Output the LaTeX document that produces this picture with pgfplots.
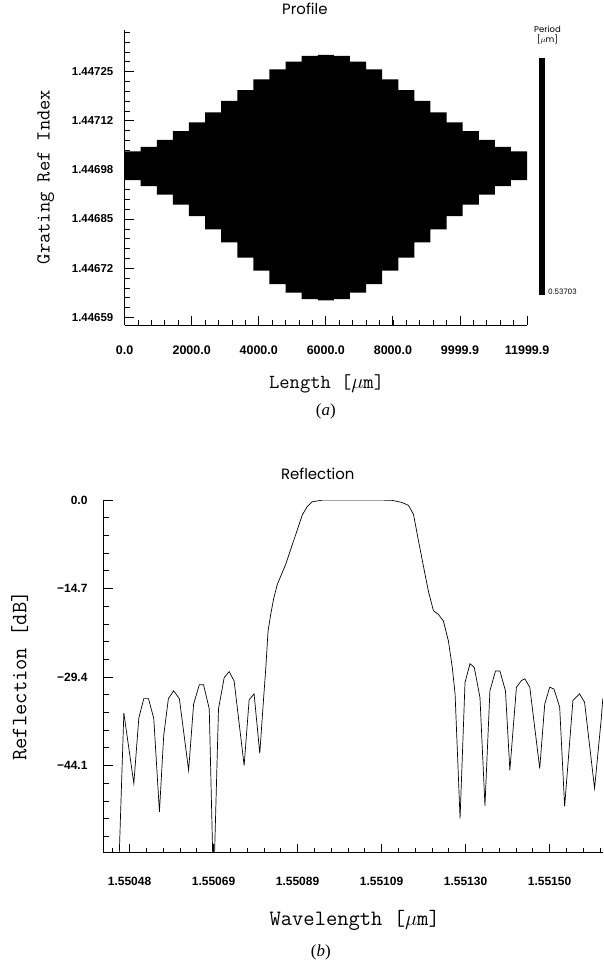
\documentclass[border=0pt]{standalone}
\usepackage{fontspec}
\usepackage{pgfplots}
\usepackage{pgfplotstable}
\pgfplotsset{compat=1.18}
\usepgfplotslibrary{fillbetween}
\newfontfamily\helv{Liberation Sans}
\newfontfamily\geo{Poppins}
\newfontfamily\tms{Liberation Serif}

% grating profile: x in um, index as (n - 1.446) * 1e5
\pgfplotstableread{
x     top    bot
0     104.0  96.2
480   105.2  94.6
960   107.1  92.3
1440  109.4  89.6
1920  111.8  86.5
2400  114.5  82.9
2880  117.6  79.4
3360  120.5  75.3
3840  123.4  71.8
4320  126.1  68.2
4800  128.2  65.9
5280  129.7  64.1
5760  130.0  63.8
6240  129.7  64.1
6720  128.2  65.9
7200  126.1  68.2
7680  123.4  71.8
8160  120.5  75.3
8640  117.6  79.4
9120  114.5  82.9
9600  111.8  86.5
10080 109.4  89.6
10560 107.1  92.3
11040 105.2  94.6
11520 104.0  96.2
12000 104.0  96.2
}\profile

% reflection: wavelength as (lambda - 1.55) * 1e5, dB
\pgfplotstableread{
wl      db
45.52  -65
46.92  -35.4
49.34  -47.1
50.55  -36.2
51.75  -33.0
52.89  -33.0
54.17  -36.3
55.54  -51.8
56.58  -39.1
57.71  -33.0
58.99  -31.7
60.37  -33.0
62.61  -44.9
63.82  -33.9
65.20  -30.7
66.23  -30.7
67.61  -34.7
68.65  -65
69.85  -34.7
71.23  -29.5
72.44  -28.5
73.64  -30.1
76.06  -44.1
77.27  -33.2
78.47  -32.2
79.85  -42.1
80.77  -33.0
81.30  -28.0
81.85  -21.8
82.50  -19.0
83.18  -16.5
84.10  -14.0
86.12  -10.7
88.13  -6.6
90.13  -2.5
91.34  -1.1
92.54  -0.3
94.96  -0.02
108.64  0.0
111.85 -0.05
114.27 -0.4
115.88 -0.9
117.09 -2.4
118.30 -6.8
119.50 -11.0
120.71 -15.2
121.92 -18.4
123.12 -19.0
124.33 -20.1
125.54 -23.4
126.50 -27.9
127.16 -32.2
128.37 -52.9
129.57 -30.3
130.78 -27.2
131.81 -27.8
133.19 -32.8
134.40 -50.8
135.60 -31.7
136.96 -28.4
138.02 -28.4
139.37 -31.7
140.43 -44.9
142.03 -31.1
143.23 -30.0
144.05 -29.7
145.26 -31.1
147.67 -44.6
148.88 -33.9
150.09 -31.1
151.12 -31.4
152.50 -34.4
153.70 -50.9
155.71 -33.3
157.32 -32.2
158.53 -33.6
160.95 -47.9
162.54 -36.6
162.95 -33.0
}\refl

\pgfplotsset{
  scan/.style={
    scale only axis,
    axis x line=bottom, axis y line=left,
    axis line style={-, line width=1.1pt},
    tick align=inside,
    scaled x ticks=false, scaled y ticks=false,
    major tick length=9pt, minor tick length=5pt,
    major tick style={black, line width=0.9pt},
    minor tick style={black, line width=0.7pt},
    title style={anchor=center, font=\geo\fontsize{15}{15}\selectfont},
    xlabel style={anchor=center},
    ylabel style={anchor=center},
  },
}

\begin{document}
\begin{tikzpicture}
\path (0,0) rectangle (605pt,-970pt);

\begin{axis}[
  scan,
  at={(125pt,-323pt)}, anchor=south west,
  width=404pt, height=296pt,
  xmin=0, xmax=12000, ymin=57.05, ymax=136.59,
  xtick={0,2000,...,12000},
  xticklabels={0.0,2000.0,4000.0,6000.0,8000.0,9999.9,11999.9},
  ytick={59.2,72.46,85.72,98.98,112.24,125.5},
  yticklabels={1.44659,1.44672,1.44685,1.44698,1.44712,1.44725},
  minor xtick={0,400,...,12000},
  minor ytick={59.2,61.852,...,136.2},
  xticklabel style={font=\helv\bfseries\fontsize{12.5}{12.5}\selectfont, yshift=-16.8pt},
  yticklabel style={font=\helv\bfseries\fontsize{11.5}{11.5}\selectfont, xshift=-7.7pt},
  title={Profile},
  title style={at={(axis description cs:0.448,1.052)}},
  xlabel={Length [$\mu$m]},
  xlabel style={at={(axis description cs:0.502,-0.199)}, font=\ttfamily\fontsize{20}{20}\selectfont},
  ylabel={Grating Ref Index},
  ylabel style={at={(axis description cs:-0.196,0.503)}, font=\ttfamily\fontsize{20}{20}\selectfont},
  clip=false,
]
\addplot[name path=upper, const plot, draw=none, forget plot] table[x=x, y=top] {\profile};
\addplot[name path=lower, const plot, draw=none, forget plot] table[x=x, y=bot] {\profile};
\addplot[black, draw=none] fill between[of=upper and lower];

% period colour bar (uniform period)
\fill[black] (rel axis cs:1.0297,0.1024) rectangle (rel axis cs:1.0446,0.905);
\node[font=\geo\fontsize{8.5}{10}\selectfont, align=center] at (rel axis cs:1.0507,0.983) {Period\\{[$\mu$m]}};
\node[font=\geo\fontsize{7.5}{8}\selectfont, anchor=west, inner sep=0pt] at (rel axis cs:1.052,0.1139) {0.53703};
\node[font=\tms\fontsize{17}{17}\selectfont] at (axis description cs:0.5,-0.291) {(\textit{a})};
\end{axis}

\begin{axis}[
  scan,
  at={(104pt,-852.3pt)}, anchor=south west,
  width=501pt, height=354pt,
  xmin=42.02, xmax=162.95, ymin=-58.6, ymax=0,
  xtick={48.3,68.65,89.0,109.35,129.7,150.05},
  xticklabels={1.55048,1.55069,1.55089,1.55109,1.55130,1.55150},
  ytick={-44.1,-29.4,-14.7,0},
  yticklabels={−44.1,−29.4,−14.7,0.0},
  minor xtick={44.23,48.3,...,162.9},
  minor ytick={0,-2.94,...,-58.6},
  xticklabel style={font=\helv\bfseries\fontsize{12}{12}\selectfont, yshift=-20.7pt},
  yticklabel style={font=\helv\bfseries\fontsize{12}{12}\selectfont, xshift=-12.7pt},
  title={Reflection},
  title style={at={(axis description cs:0.429,1.057)}},
  xlabel={Wavelength [$\mu$m]},
  xlabel style={at={(axis description cs:0.503,-0.191)}, font=\ttfamily\fontsize{22}{22}\selectfont},
  ylabel={Reflection [dB]},
  ylabel style={at={(axis description cs:-0.168,0.501)}, font=\ttfamily\fontsize{22}{22}\selectfont},
  clip mode=individual,
]
\addplot[black, line width=0.7pt] table[x=wl, y=db] {\refl};
\node[font=\tms\fontsize{17}{17}\selectfont] at (axis description cs:0.435,-0.284) {(\textit{b})};
\end{axis}
\end{tikzpicture}
\end{document}
